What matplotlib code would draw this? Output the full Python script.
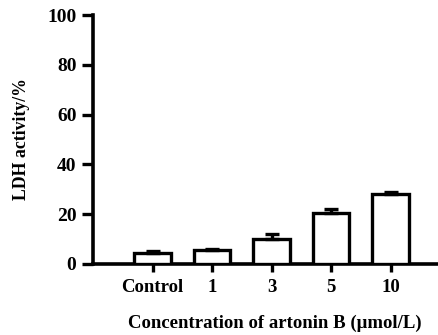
import matplotlib.pyplot as plt
import numpy as np

plt.rcParams['font.family'] = ['Liberation Serif', 'DejaVu Serif']
plt.rcParams['font.weight'] = 'bold'

groups = ['Control', '1', '3', '5', '10']
ldh = [4.5, 5.5, 10.0, 20.5, 28.0]
ldh_err = [0.8, 0.5, 2.0, 1.7, 1.0]

fig = plt.figure(figsize=(4.39, 3.35), dpi=100)
ax = fig.add_axes([0.212, 0.212, 0.786, 0.743])

x = np.arange(len(groups))
ax.bar(x, ldh, width=0.62, color='white', edgecolor='black', linewidth=2.4,
       yerr=[np.zeros(len(ldh_err)), ldh_err], capsize=5,
       error_kw=dict(elinewidth=2.4, capthick=2.4, ecolor='black'), zorder=3)

ax.set_xlim(-1, 4.8)
ax.set_ylim(0, 100)
ax.set_yticks([0, 20, 40, 60, 80, 100])
ax.set_xticks(x)
ax.set_xticklabels(groups)

for side in ['top', 'right']:
    ax.spines[side].set_visible(False)
for side in ['left', 'bottom']:
    ax.spines[side].set_linewidth(2.6)

ax.tick_params(axis='y', length=8, width=2.4, labelsize=14, pad=4)
ax.tick_params(axis='x', length=6, width=2.4, labelsize=13.5, pad=5)
for lab in ax.get_xticklabels() + ax.get_yticklabels():
    lab.set_fontweight('bold')

ax.set_ylabel('LDH activity/%', fontsize=12.8, fontweight='bold', labelpad=12)
ax.set_xlabel('Concentration of artonin B (\u03bcmol/L)', fontsize=13.5, fontweight='bold')
ax.xaxis.set_label_coords(0.528, -0.205)

fig.savefig('out.png', dpi=100)
